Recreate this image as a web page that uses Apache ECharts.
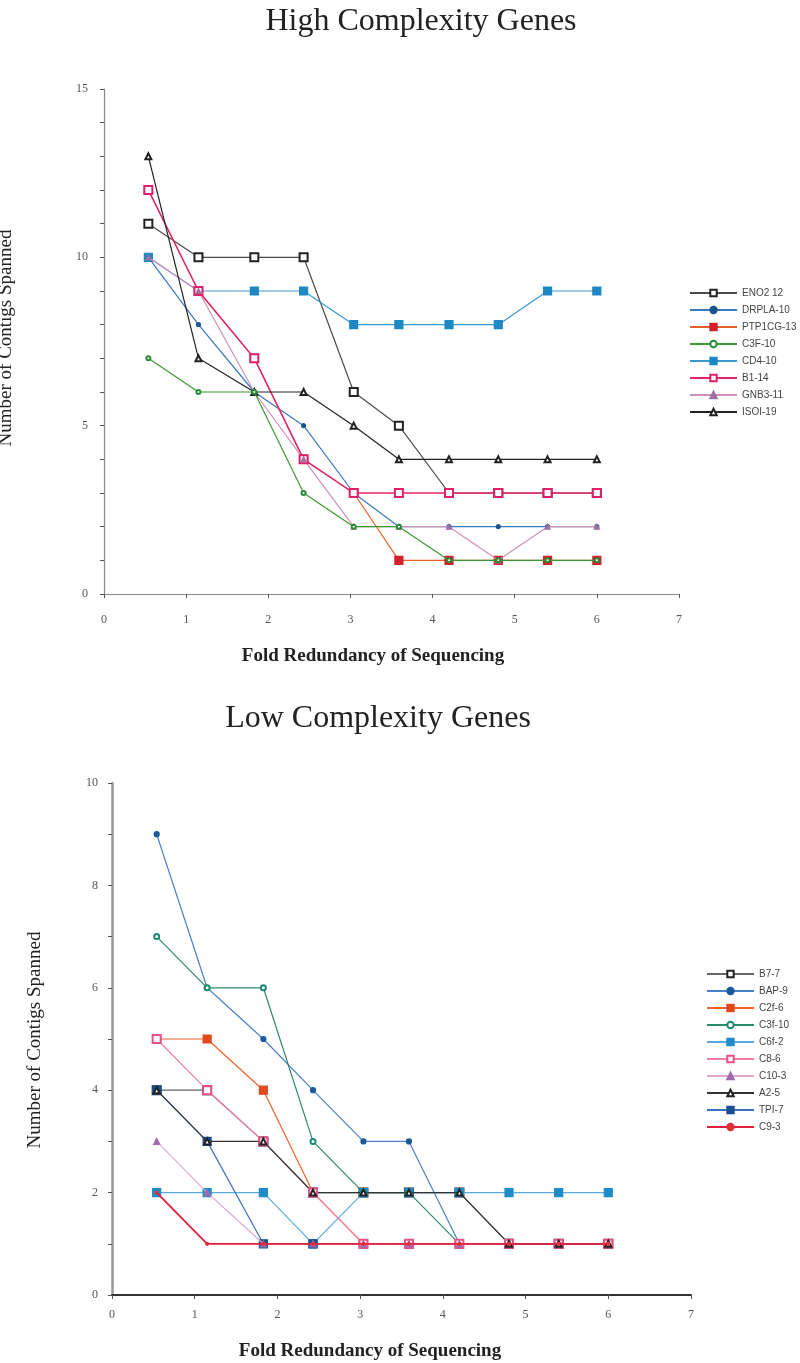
<!DOCTYPE html>
<html><head><meta charset="utf-8">
<script src="https://cdn.jsdelivr.net/npm/echarts@6/dist/echarts.min.js"></script>
<style>html,body{margin:0;padding:0;background:#fff}#c{width:800px;height:1363px}</style>
</head><body><div id="c"></div>
<script>
// Fold redundancy positions (shared by both panels)
const foldX = [0.54, 1.15, 1.83, 2.43, 3.04, 3.59, 4.20, 4.80, 5.40, 6.00];

// High complexity genes
const highNames = ['ENO2 12','DRPLA-10','PTP1CG-13','C3F-10','CD4-10','B1-14','GNB3-11','ISOI-19'];
const ENO2   = [11, 10, 10, 10, 6, 5, 3, 3, 3, 3];
const DRPLA  = [10, 8, 6, 5, 3, 2, 2, 2, 2, 2];
const PTP1CG = [12, 9, 7, 4, 3, 1, 1, 1, 1, 1];
const C3F    = [7, 6, 6, 3, 2, 2, 1, 1, 1, 1];
const CD4    = [10, 9, 9, 9, 8, 8, 8, 8, 9, 9];
const B1     = [12, 9, 7, 4, 3, 3, 3, 3, 3, 3];
const GNB3   = [10, 9, 6, 4, 2, 2, 2, 1, 2, 2];
const ISO1   = [13, 7, 6, 6, 5, 4, 4, 4, 4, 4];

// Low complexity genes
const lowNames = ['B7-7','BAP-9','C2f-6','C3f-10','C6f-2','C8-6','C10-3','A2-5','TPI-7','C9-3'];
const B7   = [4, 4, 3, 2, 2, 2, 2, 1, 1, 1];
const BAP  = [9, 6, 5, 4, 3, 3, 1, 1, 1, 1];
const C2f  = [5, 5, 4, 2, 1, 1, 1, 1, 1, 1];
const C3f  = [7, 6, 6, 3, 2, 2, 1, 1, 1, 1];
const C6f  = [2, 2, 2, 1, 2, 2, 2, 2, 2, 2];
const C8   = [5, 4, 3, 2, 1, 1, 1, 1, 1, 1];
const C10  = [3, 2, 1, 1, 1, 1, 1, 1, 1, 1];
const A2   = [4, 3, 3, 2, 2, 2, 2, 1, 1, 1];
const TPI  = [4, 3, 1, 1, 1, 1, 1, 1, 1, 1];
const C9   = [2, 1, 1, 1, 1, 1, 1, 1, 1, 1];

const xTicks = [0,1,2,3,4,5,6,7];

function pts(v){ return foldX.map((x,i)=>[x, v[i]]); }
function ser(name, vals, idx, lineColor, symbol, symColor, size, opts){
  opts = opts || {};
  return {
    name, type:'line', xAxisIndex: idx, yAxisIndex: idx, data: pts(vals),
    symbol, symbolSize: size, showSymbol: true,
    lineStyle: {color: lineColor, width: opts.width || 1.2},
    itemStyle: {color: symColor, borderColor: symColor, borderWidth: opts.bw || 1.2},
    z: opts.z || 2, animation:false
  };
}

const high = [
  ser(highNames[0], ENO2, 0, '#4a4a4a', 'emptyRect', '#222', 8, {z:2}),
  ser(highNames[1], DRPLA, 0, '#3a78c0', 'circle', '#1a5590', 4, {z:3}),
  ser(highNames[2], PTP1CG, 0, '#e8602a', 'rect', '#d42028', 8, {z:3}),
  ser(highNames[3], C3F, 0, '#3c9a30', 'emptyCircle', '#2a8a3a', 4, {z:5}),
  ser(highNames[4], CD4, 0, '#3a9ad0', 'rect', '#1e88c4', 8, {z:3}),
  ser(highNames[5], B1, 0, '#e2246e', 'emptyRect', '#e0206a', 8, {z:4, width:1.4}),
  ser(highNames[6], GNB3, 0, '#d090b8', 'triangle', '#a070a0', 5, {z:4}),
  ser(highNames[7], ISO1, 0, '#222', 'emptyTriangle', '#222', 6, {z:4})
];
const low = [
  ser(lowNames[0], B7, 1, '#666', 'emptyRect', '#222', 8, {z:2}),
  ser(lowNames[1], BAP, 1, '#4a80c8', 'circle', '#1a5a9a', 5, {z:3}),
  ser(lowNames[2], C2f, 1, '#f0602a', 'rect', '#e04a20', 8, {z:3}),
  ser(lowNames[3], C3f, 1, '#2a8a6a', 'emptyCircle', '#1a8a70', 5, {z:4}),
  ser(lowNames[4], C6f, 1, '#5aaae0', 'rect', '#1e8cc8', 8, {z:3}),
  ser(lowNames[5], C8, 1, '#f080a0', 'emptyRect', '#e8508a', 8, {z:4}),
  ser(lowNames[6], C10, 1, '#e0a8c8', 'triangle', '#a06ab0', 6, {z:4}),
  ser(lowNames[7], A2, 1, '#333', 'emptyTriangle', '#222', 6, {z:4}),
  ser(lowNames[8], TPI, 1, '#3a70c0', 'rect', '#1a4e8e', 8, {z:3}),
  ser(lowNames[9], C9, 1, '#e0203a', 'circle', '#e0303a', 3, {z:5, width:1.8})
];

const chart = echarts.init(document.getElementById('c'), null, {renderer:'canvas'});
const serif = 'Liberation Serif, Times New Roman, serif';
const sans = 'Liberation Sans, Arial, sans-serif';

function xAx(idx, lineColor, margin){
  return {
    type:'value', gridIndex: idx, min:0, max:7, interval:1,
    axisLine:{show:true, lineStyle:{color: lineColor, width: idx? 2 : 1.2}},
    axisTick:{show:true, length:4, lineStyle:{color:'#555'}},
    splitLine:{show:false},
    axisLabel:{color:'#555', fontFamily: serif, fontSize:12, margin: margin,
      formatter: v => xTicks.includes(v) ? String(v) : ''}
  };
}
function yAx(idx, max, every, lineColor, margin){
  return {
    type:'value', gridIndex: idx, min:0, max, interval:1,
    axisLine:{show:true, lineStyle:{color: lineColor, width: idx? 2.5 : 1.2}},
    axisTick:{show:true, length:4, lineStyle:{color:'#555'}},
    splitLine:{show:false},
    axisLabel:{color:'#555', fontFamily: serif, fontSize:12, margin: margin,
      formatter: v => (v % every === 0) ? String(v) : ''}
  };
}

chart.setOption({
  backgroundColor:'#fff',
  animation:false,
  grid:[
    {left:104, top:89, width:575, height:505},
    {left:112, top:783, width:579, height:512}
  ],
  xAxis:[ xAx(0,'#888',20), xAx(1,'#333',14) ],
  yAxis:[ yAx(0,15,5,'#888',16), yAx(1,10,2,'#999',14) ],
  legend:[
    {data: highNames, orient:'vertical', left:684, top:283, itemWidth:47, itemHeight:8, itemGap:7,
     textStyle:{fontFamily: sans, fontSize:10, color:'#444'}, selectedMode:false},
    {data: lowNames, orient:'vertical', left:701, top:964, itemWidth:47, itemHeight:8, itemGap:7,
     textStyle:{fontFamily: sans, fontSize:10, color:'#444'}, selectedMode:false}
  ],
  graphic:[
    {type:'text', x:421, y:6, style:{text:'High Complexity Genes', font:'32px '+serif, fill:'#222', textAlign:'center'}},
    {type:'text', x:378, y:703, style:{text:'Low Complexity Genes', font:'32px '+serif, fill:'#222', textAlign:'center'}},
    {type:'text', x:373, y:647, style:{text:'Fold Redundancy of Sequencing', font:'bold 19px '+serif, fill:'#222', textAlign:'center'}},
    {type:'text', x:370, y:1342, style:{text:'Fold Redundancy of Sequencing', font:'bold 19px '+serif, fill:'#222', textAlign:'center'}},
    {type:'text', x:6, y:338, rotation:Math.PI/2, style:{text:'Number of Contigs Spanned', font:'19px '+serif, fill:'#222', textAlign:'center', textVerticalAlign:'middle'}},
    {type:'text', x:35, y:1040, rotation:Math.PI/2, style:{text:'Number of Contigs Spanned', font:'19px '+serif, fill:'#222', textAlign:'center', textVerticalAlign:'middle'}}
  ],
  series: high.concat(low)
});
</script></body></html>
